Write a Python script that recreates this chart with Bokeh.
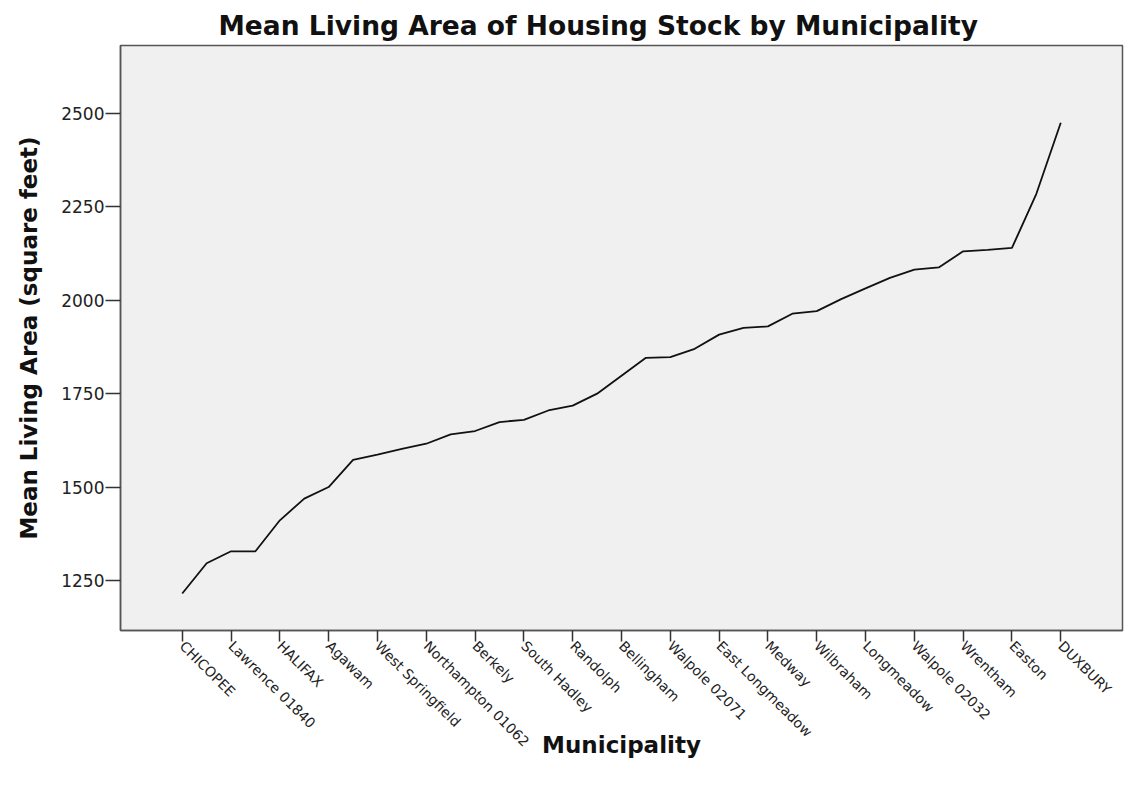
import math
from bokeh.plotting import figure
from bokeh.models import Range1d, FixedTicker, ColumnDataSource
from bokeh.embed import file_html
from bokeh.resources import INLINE

# Municipalities shown as tick labels (every other point on the line)
tick_labels = [
    "CHICOPEE", "Lawrence 01840", "HALIFAX", "Agawam", "West Springfield",
    "Northampton 01062", "Berkely", "South Hadley", "Randolph", "Bellingham",
    "Walpole 02071", "East Longmeadow", "Medway", "Wilbraham", "Longmeadow",
    "Walpole 02032", "Wrentham", "Easton", "DUXBURY",
]

# Mean living area (square feet) for each municipality in sorted order
mean_area = [
    1215, 1296, 1328, 1328, 1411, 1469, 1500, 1573, 1587, 1602,
    1616, 1641, 1650, 1674, 1680, 1705, 1718, 1750, 1798, 1846,
    1848, 1870, 1908, 1926, 1930, 1964, 1971, 2003, 2032, 2060,
    2082, 2088, 2131, 2135, 2140, 2285, 2475,
]

y_ticks = [1250, 1500, 1750, 2000, 2250, 2500]

positions = list(range(len(mean_area)))
tick_positions = positions[::2]

source = ColumnDataSource(data=dict(x=positions, y=mean_area))

FONT = "DejaVu Sans"

p = figure(
    width=1125, height=789,
    output_backend="svg", toolbar_location=None,
    x_range=Range1d(-2.53, 38.53), y_range=Range1d(1116, 2682),
    min_border_left=120, min_border_right=3, min_border_top=45, min_border_bottom=159,
    title="Mean Living Area of Housing Stock by Municipality",
)

p.line("x", "y", source=source, line_color="#111111", line_width=1.8)

p.background_fill_color = "#f0f0f0"
p.border_fill_color = "white"
p.outline_line_color = "#555555"
p.outline_line_width = 1.5
p.grid.visible = False

p.title.text_font = FONT
p.title.text_font_size = "26.5px"
p.title.text_font_style = "bold"
p.title.text_color = "#111111"
p.title.align = "left"
p.title.offset = 98
p.title.standoff = 9

# X axis
xa = p.xaxis[0]
xa.ticker = FixedTicker(ticks=tick_positions)
xa.major_label_overrides = {pos: lab for pos, lab in zip(tick_positions, tick_labels)}
xa.major_label_orientation = -math.pi / 4
xa.major_label_text_font = FONT
xa.major_label_text_font_size = "14px"
xa.major_label_text_color = "#222222"
xa.major_label_standoff = 2
xa.major_tick_out = 11
xa.major_tick_in = 0
xa.minor_tick_out = 0
xa.minor_tick_in = 0
xa.major_tick_line_color = "#333333"
xa.major_tick_line_width = 1.5
xa.axis_line_color = "#555555"
xa.axis_line_width = 1.5
xa.axis_label = "Municipality"
xa.axis_label_text_font = FONT
xa.axis_label_text_font_size = "23px"
xa.axis_label_text_font_style = "bold"
xa.axis_label_text_color = "#111111"
xa.axis_label_standoff = -26

# Y axis
ya = p.yaxis[0]
ya.ticker = FixedTicker(ticks=y_ticks)
ya.major_label_text_font = FONT
ya.major_label_text_font_size = "17px"
ya.major_label_text_color = "#222222"
ya.major_label_standoff = 1
ya.major_tick_out = 15
ya.major_tick_in = 0
ya.minor_tick_out = 0
ya.minor_tick_in = 0
ya.major_tick_line_color = "#333333"
ya.major_tick_line_width = 1.5
ya.axis_line_color = "#555555"
ya.axis_line_width = 1.5
ya.axis_label = "Mean Living Area (square feet)"
ya.axis_label_text_font = FONT
ya.axis_label_text_font_size = "23px"
ya.axis_label_text_font_style = "bold"
ya.axis_label_text_color = "#111111"
ya.axis_label_standoff = 16

open("out.html", "w").write(file_html(p, INLINE))
